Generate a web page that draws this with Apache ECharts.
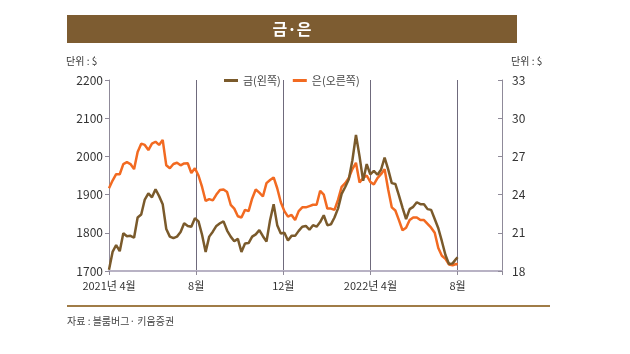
<!DOCTYPE html>
<html>
<head>
<meta charset="utf-8">
<script src="https://cdn.jsdelivr.net/npm/echarts@6/dist/echarts.min.js"></script>
<style>
  html, body { margin: 0; padding: 0; background: #fff; }
  #chart { width: 630px; height: 354px; }
</style>
</head>
<body>
<div id="chart"></div>
<script>
// 5-day samples, Apr 2021 - Aug 2022
const dates = [
  "2021-04-01", "2021-04-06", "2021-04-11", "2021-04-16", "2021-04-21", "2021-04-26",
  "2021-05-01", "2021-05-06", "2021-05-11", "2021-05-16", "2021-05-21", "2021-05-26",
  "2021-05-31", "2021-06-05", "2021-06-10", "2021-06-15", "2021-06-20", "2021-06-25",
  "2021-06-30", "2021-07-05", "2021-07-10", "2021-07-15", "2021-07-20", "2021-07-25",
  "2021-07-30", "2021-08-04", "2021-08-09", "2021-08-14", "2021-08-19", "2021-08-24",
  "2021-08-29", "2021-09-03", "2021-09-08", "2021-09-13", "2021-09-18", "2021-09-23",
  "2021-09-28", "2021-10-03", "2021-10-08", "2021-10-13", "2021-10-18", "2021-10-23",
  "2021-10-28", "2021-11-02", "2021-11-07", "2021-11-12", "2021-11-17", "2021-11-22",
  "2021-11-27", "2021-12-02", "2021-12-07", "2021-12-12", "2021-12-17", "2021-12-22",
  "2021-12-27", "2022-01-01", "2022-01-06", "2022-01-11", "2022-01-16", "2022-01-21",
  "2022-01-26", "2022-01-31", "2022-02-05", "2022-02-10", "2022-02-15", "2022-02-20",
  "2022-02-25", "2022-03-02", "2022-03-07", "2022-03-12", "2022-03-17", "2022-03-22",
  "2022-03-27", "2022-04-01", "2022-04-06", "2022-04-11", "2022-04-16", "2022-04-21",
  "2022-04-26", "2022-05-01", "2022-05-06", "2022-05-11", "2022-05-16", "2022-05-21",
  "2022-05-26", "2022-05-31", "2022-06-05", "2022-06-10", "2022-06-15", "2022-06-20",
  "2022-06-25", "2022-06-30", "2022-07-05", "2022-07-10", "2022-07-15", "2022-07-20",
  "2022-07-25", "2022-07-30", "2022-08-01"
];

const gold = [
  1703, 1750, 1768, 1752, 1799, 1791, 1792, 1787, 1840, 1848, 1887, 1903,
  1893, 1914, 1896, 1875, 1810, 1790, 1786, 1790, 1802, 1825, 1818, 1816,
  1838, 1830, 1795, 1750, 1790, 1803, 1818, 1825, 1830, 1806, 1790, 1778,
  1784, 1750, 1772, 1773, 1790, 1796, 1807, 1791, 1777, 1833, 1875, 1820,
  1798, 1800, 1780, 1792, 1792, 1805, 1816, 1818, 1808, 1820, 1816, 1828,
  1846, 1820, 1822, 1840, 1864, 1902, 1920, 1940, 1990, 2056, 2000, 1936,
  1980, 1953, 1962, 1952, 1965, 1997, 1966, 1930, 1928, 1898, 1866, 1836,
  1862, 1868, 1880, 1875, 1875, 1862, 1860, 1836, 1812, 1778, 1742, 1718,
  1720, 1732, 1736
];

const silver = [
  24.5, 25.1, 25.6, 25.6, 26.4, 26.55, 26.4, 26.0, 27.35, 28.0, 27.9, 27.5,
  28.0, 28.15, 27.9, 28.3, 26.3, 26.07, 26.4, 26.5, 26.3, 26.45, 26.46, 25.7,
  26.07, 25.5, 24.6, 23.5, 23.65, 23.55, 24.0, 24.36, 24.4, 24.2, 23.2, 22.9,
  22.3, 22.2, 22.8, 22.7, 23.7, 24.4, 24.15, 23.85, 24.9, 25.15, 25.35, 24.5,
  23.4, 22.7, 22.27, 22.4, 22.0, 22.7, 23.0, 23.0, 23.1, 23.2, 23.2, 24.3,
  24.0, 22.9, 22.9, 22.8, 23.6, 24.6, 24.9, 25.3, 26.0, 26.5, 24.95, 25.3,
  25.5, 25.0, 24.8, 25.3, 25.6, 26.0, 24.4, 23.0, 22.75, 22.0, 21.2, 21.4,
  22.0, 22.2, 22.2, 22.0, 22.0, 21.7, 21.4, 21.0, 19.8, 19.2, 18.95, 18.5,
  18.45, 18.55, 18.5
];

const xLabels = ["2021년 4월", "8월", "12월", "2022년 4월", "8월"];
const seriesNames = ["금(왼쪽)", "은(오른쪽)"];

const startDay = Date.parse(dates[0]);
const dayOf = (d) => (Date.parse(d) - startDay) / 864e5;

const goldColor = "#7a5a2b";
const silverColor = "#f26a21";
const FONT = "'Noto Sans CJK KR', 'Noto Sans', sans-serif";
const STEP = 121.75; // ~4 months in days

const chart = echarts.init(document.getElementById("chart"));

const option = {
  animation: false,
  textStyle: { fontFamily: FONT },
  grid: { left: 109, right: 128, top: 80, bottom: 83 },
  legend: {
    left: 219,
    top: 70,
    itemWidth: 14,
    itemHeight: 3,
    itemGap: 12,
    icon: "rect",
    textStyle: { fontSize: 11, color: "#444", fontFamily: FONT },
    data: seriesNames
  },
  xAxis: {
    type: "value",
    min: 0,
    max: 549,
    interval: STEP,
    axisLine: { show: true, lineStyle: { color: "#b8b2c4", width: 2 } },
    axisTick: { show: true, length: 4, lineStyle: { color: "#8f8a99" } },
    axisLabel: {
      margin: 9,
      fontSize: 11,
      color: "#333",
      fontFamily: FONT,
      formatter: (v) => {
        const i = Math.round(v / STEP);
        return Math.abs(v - i * STEP) < 1 && xLabels[i] ? xLabels[i] : "";
      }
    },
    splitLine: { show: true, lineStyle: { color: "#6f6a7c", width: 1 } }
  },
  yAxis: [
    {
      type: "value",
      min: 1700,
      max: 2200,
      interval: 100,
      axisLine: { show: true, lineStyle: { color: "#8f8a99" } },
      axisTick: { show: true, length: 4, lineStyle: { color: "#8f8a99" } },
      axisLabel: { fontSize: 12, color: "#333", margin: 6, fontFamily: FONT, formatter: (v) => String(v) },
      splitLine: { show: false }
    },
    {
      type: "value",
      min: 18,
      max: 33,
      interval: 3,
      position: "right",
      axisLine: { show: true, lineStyle: { color: "#8f8a99" } },
      axisTick: { show: true, inside: true, length: 4, lineStyle: { color: "#8f8a99" } },
      axisLabel: { fontSize: 12, color: "#333", margin: 10, fontFamily: FONT, formatter: (v) => String(v) },
      splitLine: { show: false }
    }
  ],
  series: [
    {
      name: seriesNames[1],
      type: "line",
      yAxisIndex: 1,
      showSymbol: false,
      data: dates.map((d, i) => [dayOf(d), silver[i]]),
      itemStyle: { color: silverColor },
      lineStyle: { color: silverColor, width: 2.5 }
    },
    {
      name: seriesNames[0],
      type: "line",
      yAxisIndex: 0,
      showSymbol: false,
      data: dates.map((d, i) => [dayOf(d), gold[i]]),
      itemStyle: { color: goldColor },
      lineStyle: { color: goldColor, width: 2.5 }
    }
  ],
  graphic: [
    {
      type: "rect",
      shape: { x: 67, y: 15, width: 450, height: 28 },
      style: { fill: "#7d5c31" }
    },
    {
      type: "text",
      x: 292,
      y: 29,
      style: {
        text: "금·은",
        fill: "#fff",
        font: "bold 16px " + FONT,
        textAlign: "center",
        textVerticalAlign: "middle"
      }
    },
    {
      type: "text",
      x: 66,
      y: 61,
      style: { text: "단위 : $", fill: "#333", font: "10px " + FONT, textVerticalAlign: "middle" }
    },
    {
      type: "text",
      x: 511,
      y: 61,
      style: { text: "단위 : $", fill: "#333", font: "10px " + FONT, textVerticalAlign: "middle" }
    },
    {
      type: "line",
      shape: { x1: 67, y1: 306, x2: 550, y2: 306 },
      style: { stroke: "#a07c47", lineWidth: 2 }
    },
    {
      type: "text",
      x: 67,
      y: 321,
      style: { text: "자료 : 블룸버그· 키움증권", fill: "#444", font: "10px " + FONT, textVerticalAlign: "middle" }
    }
  ]
};

chart.setOption(option);
</script>
</body>
</html>
